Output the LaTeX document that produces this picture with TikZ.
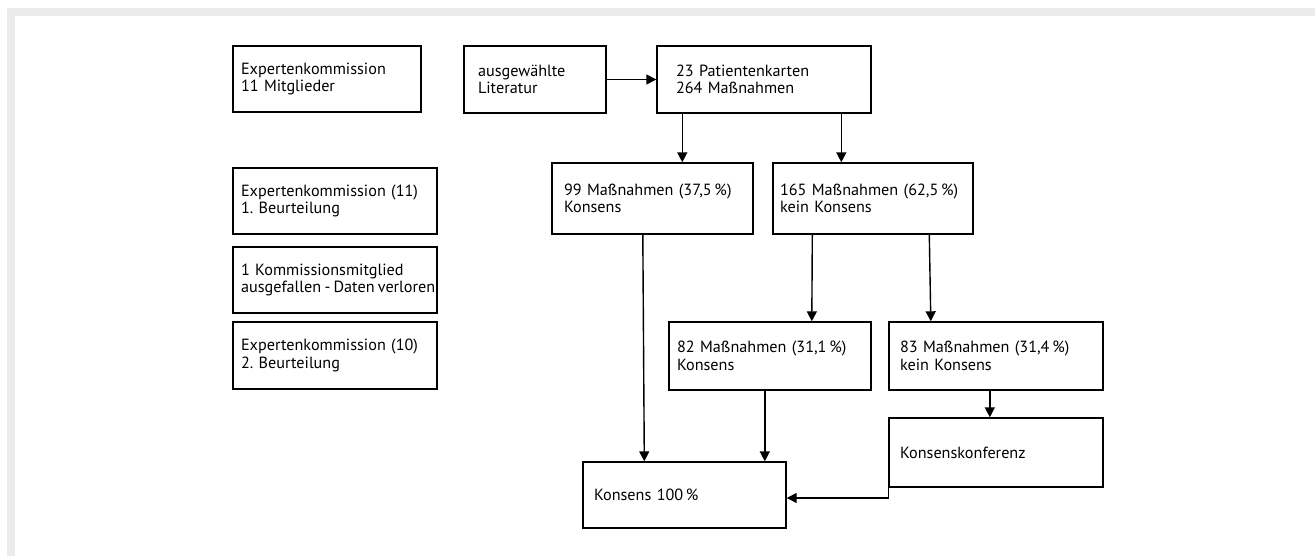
\documentclass[tikz,border=0pt]{standalone}
\usepackage{fontspec}
\setmainfont{PT Sans}
\usetikzlibrary{arrows.meta}
\usetikzlibrary{positioning}

\begin{document}
\begin{tikzpicture}[x=0.5pt,y=-0.5pt,line width=0.7pt,
		box/.style={draw, align=left, inner ysep=0pt, font=\fontsize{8.1}{8.75}\selectfont\frenchspacing},
		>={Triangle[length=5pt,width=5pt]}]
		\useasboundingbox (0,0) rectangle (1315,556);
		\fill[black!8] (7,8) rectangle (1315,16);
		\fill[black!8] (7,8) rectangle (15,556);
		
		\node[box, minimum height=33pt, text width=86pt, inner xsep=4pt] (EK) at (327,79) {Expertenkommission\\11 Mitglieder};
		\node[box, minimum height=33pt, text width=94pt, inner xsep=4pt] (EK1) at (335,201) {Expertenkommission (11)\\1. Beurteilung};
		\node[box, minimum height=33pt, text width=94pt, inner xsep=4pt] (KM) at (335,280) {1 Kommissionsmitglied\\\mbox{\spaceskip=0.2em ausgefallen - Daten verloren}};
		\node[box, minimum height=33.5pt, text width=94pt, inner xsep=4pt] (EK2) at (335,355.5) {Expertenkommission (10)\\2. Beurteilung};
		
		\node[box, minimum height=33.5pt, text width=57pt, inner xsep=7pt] (Lit) at (535,79.5) {ausgewählte\\Literatur};
		\node[box, minimum height=33.5pt, text width=88pt, inner xsep=9.5pt] (Pat) at (764,79.5) {23 Patientenkarten\\264 Maßnahmen};
		\node[box, minimum height=35.5pt, text width=88.5pt, inner xsep=6pt] (M99) at (652.5,198.5) {99 Maßnahmen (37,5\,\%)\\Konsens};
		\node[box, minimum height=35.5pt, text width=93pt, inner xsep=3.5pt] (M165) at (873,198.5) {165 Maßnahmen (62,5\,\%)\\kein Konsens};
		\node[box, minimum height=34pt, text width=93pt, inner xsep=4pt] (M82) at (770,356) {82 Maßnahmen (31,1\,\%)\\Konsens};
		\node[box, minimum height=34pt, text width=96pt, inner xsep=5.5pt] (M83) at (996,356) {83 Maßnahmen (31,4\,\%)\\kein Konsens};
		\node[box, minimum height=34.5pt, text width=96pt, inner xsep=5.5pt] (KK) at (996,452.5) {Konsenskonferenz};
		\node[box, minimum height=33pt, text width=90.5pt, inner xsep=5.5pt] (K100) at (684.5,495) {Konsens 100\,\%};
		
		\draw[->] (Lit.east) -- (Pat.west);
		\draw[->] ([xshift=13pt]Pat.south west) -- ([xshift=13pt]Pat.south west |- M99.north);
		\draw[->] ([xshift=92.5pt]Pat.south west) -- ([xshift=92.5pt]Pat.south west |- M165.north);
		\draw[->] ([xshift=45.75pt]M99.south west) -- ([xshift=31pt]K100.north west);
		\draw[->] ([xshift=20pt]M165.south west) -- ([xshift=71.75pt]M82.north west);
		\draw[->] ([xshift=78.5pt]M165.south west) -- ([xshift=21.25pt]M83.north west);
		\draw[->] ([xshift=48.25pt]M82.south west) -- ([xshift=48.25pt]M82.south west |- K100.north);
		\draw[->] ([xshift=50.75pt]M83.south west) -- ([xshift=50.75pt]M83.south west |- KK.north);
		\draw[->] (KK.south west) |- ([yshift=-1.5pt]K100.east);
		\end{tikzpicture}
\end{document}
